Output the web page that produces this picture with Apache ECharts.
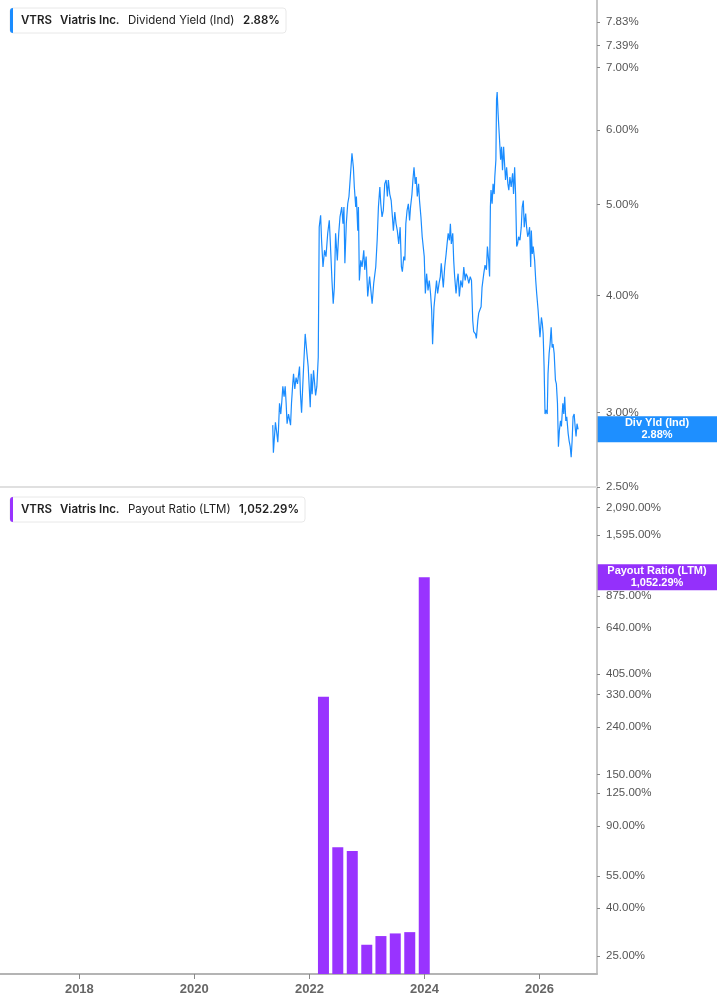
<!DOCTYPE html>
<html>
<head>
<meta charset="utf-8">
<script src="https://cdn.jsdelivr.net/npm/echarts@6.0.0/dist/echarts.min.js"></script>
<style>
  html, body { margin: 0; padding: 0; background: #fff; }
  #main { width: 717px; height: 1005px; }
</style>
</head>
<body>
<div id="main"></div>
<script>
// Dividend Yield (Ind), %
var divDates = [
  '2021-05-13','2021-05-17','2021-05-30','2021-06-08','2021-06-14','2021-06-18','2021-06-25','2021-07-03',
  '2021-07-10','2021-07-16','2021-07-24','2021-07-31','2021-08-06','2021-08-12','2021-08-21','2021-09-03',
  '2021-09-09','2021-09-17','2021-09-22','2021-09-30','2021-10-08','2021-10-17','2021-10-30','2021-11-05',
  '2021-11-12','2021-11-25','2021-12-05','2021-12-16','2021-12-24','2022-01-06','2022-01-12','2022-01-18',
  '2022-01-27','2022-02-09','2022-02-17','2022-02-26','2022-03-04','2022-03-13','2022-03-19','2022-03-28',
  '2022-04-07','2022-04-16','2022-04-27','2022-05-07','2022-05-13','2022-05-24','2022-06-01','2022-06-08',
  '2022-06-16','2022-06-27','2022-07-06','2022-07-14','2022-07-25','2022-08-02','2022-08-08','2022-08-14',
  '2022-08-23','2022-09-01','2022-09-09','2022-09-28','2022-10-07','2022-10-13','2022-10-22','2022-10-26',
  '2022-11-04','2022-11-08','2022-11-14','2022-11-23','2022-12-01','2022-12-12','2022-12-18','2022-12-27',
  '2023-01-06','2023-01-18','2023-02-03','2023-02-13','2023-02-26','2023-03-07','2023-03-15','2023-03-24',
  '2023-03-30','2023-04-07','2023-04-15','2023-04-24','2023-05-03','2023-05-11','2023-05-17','2023-05-26',
  '2023-06-04','2023-06-12','2023-06-18','2023-06-27','2023-07-05','2023-07-13','2023-07-22','2023-07-31',
  '2023-08-08','2023-08-14','2023-08-23','2023-08-30','2023-09-05','2023-09-13','2023-09-21','2023-09-29',
  '2023-10-05','2023-10-14','2023-10-20','2023-10-27','2023-11-04','2023-11-10','2023-11-17','2023-11-25',
  '2023-12-01','2023-12-10','2023-12-18','2023-12-31','2024-01-07','2024-01-15','2024-01-24','2024-02-01',
  '2024-02-09','2024-02-16','2024-02-22','2024-03-02','2024-03-10','2024-03-18','2024-03-25','2024-04-03',
  '2024-04-11','2024-04-17','2024-04-24','2024-04-30','2024-05-09','2024-05-18','2024-05-24','2024-05-31',
  '2024-06-08','2024-06-14','2024-06-20','2024-06-29','2024-07-05','2024-07-11','2024-07-20','2024-07-27',
  '2024-08-02','2024-08-10','2024-08-19','2024-08-29','2024-09-07','2024-09-16','2024-09-22','2024-09-30',
  '2024-10-09','2024-10-18','2024-10-26','2024-11-03','2024-11-09','2024-11-20','2024-11-26','2024-12-05',
  '2024-12-11','2024-12-18','2024-12-26','2025-01-01','2025-01-12','2025-01-20','2025-01-29','2025-02-04',
  '2025-02-12','2025-02-18','2025-02-23','2025-02-27','2025-03-06','2025-03-12','2025-03-19','2025-03-23',
  '2025-03-30','2025-04-03','2025-04-07','2025-04-13','2025-04-20','2025-04-29','2025-05-05','2025-05-11',
  '2025-05-18','2025-05-24','2025-05-30','2025-06-06','2025-06-14','2025-06-20','2025-06-27','2025-07-05',
  '2025-07-14','2025-07-20','2025-07-27','2025-08-02','2025-08-09','2025-08-15','2025-08-21','2025-08-30',
  '2025-09-07','2025-09-13','2025-09-20','2025-09-26','2025-10-05','2025-10-11','2025-10-18','2025-10-24',
  '2025-10-30','2025-11-06','2025-11-10','2025-11-16','2025-11-22','2025-12-01','2025-12-08','2025-12-14',
  '2025-12-23','2025-12-29','2026-01-04','2026-01-13','2026-01-19','2026-01-24','2026-01-30','2026-02-05',
  '2026-02-11','2026-02-19','2026-02-24','2026-03-03','2026-03-09','2026-03-16','2026-03-22','2026-03-28',
  '2026-04-04','2026-04-12','2026-04-18','2026-04-25','2026-05-01','2026-05-07','2026-05-14','2026-05-20',
  '2026-05-29','2026-06-04','2026-06-10','2026-06-17','2026-06-23','2026-07-02','2026-07-08','2026-07-15',
  '2026-07-21','2026-07-27','2026-08-02','2026-08-09','2026-08-15','2026-08-21','2026-08-27','2026-09-03'
];
var divYield = [
  2.91,2.72,2.93,2.85,2.79,2.87,3.07,2.99,
  3.09,3.20,3.12,3.20,3.07,2.92,2.99,2.91,
  3.07,3.22,3.30,3.18,3.27,3.22,3.36,3.14,
  3.00,3.36,3.64,3.47,3.36,3.04,3.30,3.14,
  3.33,3.13,3.20,3.44,4.73,4.87,4.58,4.29,
  4.47,4.40,4.66,4.81,4.58,4.15,3.92,4.08,
  4.66,4.36,4.66,4.85,4.97,4.77,4.97,4.33,
  4.77,5.01,5.10,5.67,5.48,5.22,4.97,5.10,
  4.69,4.97,4.15,4.36,4.29,4.47,4.26,4.40,
  3.99,4.19,3.92,4.12,4.29,4.58,4.97,5.22,
  5.01,4.85,4.93,5.26,5.31,5.10,5.31,5.13,
  5.05,4.85,4.69,4.91,4.77,4.69,4.54,4.73,
  4.29,4.24,4.40,4.36,4.77,4.93,5.01,4.81,
  4.97,5.13,5.31,5.48,5.26,5.35,5.10,5.26,
  5.05,4.85,4.62,4.40,4.02,4.22,4.05,4.15,
  4.02,3.86,3.55,3.89,4.02,4.15,4.02,4.12,
  4.19,4.33,4.19,4.08,4.29,4.43,4.54,4.66,
  4.58,4.77,4.54,4.66,4.36,4.19,4.02,4.15,
  4.22,3.99,4.15,4.08,4.29,4.15,4.22,4.19,
  4.12,4.19,4.15,3.76,3.66,3.64,3.60,3.76,
  3.83,3.86,3.89,4.08,4.22,4.31,4.26,4.51,
  4.36,4.19,4.97,5.18,5.01,5.26,5.13,5.35,
  5.58,6.46,6.59,6.25,5.95,5.58,5.76,5.44,
  5.76,5.53,5.31,5.48,5.26,5.18,5.35,5.22,
  5.40,5.13,5.48,5.13,4.51,4.54,4.62,4.58,
  4.73,4.97,5.05,4.73,4.89,4.73,4.62,4.66,
  4.73,4.29,4.69,4.43,4.51,4.36,4.15,4.02,
  3.86,3.73,3.61,3.79,3.73,3.64,3.36,2.99,
  3.02,2.99,3.30,3.47,3.55,3.70,3.52,3.55,
  3.47,3.25,3.22,3.07,2.76,2.87,2.94,2.90,
  3.07,2.99,3.12,2.94,2.97,2.85,2.80,2.76,
  2.69,2.80,2.97,2.99,2.90,2.83,2.92,2.88
];

// Payout Ratio (LTM), %, quarterly
var payoutDates = ['2022-03-31','2022-06-30','2022-09-30','2022-12-31','2023-03-31','2023-06-30','2023-09-30','2023-12-31'];
var payoutRatio = [323, 73.1, 70.5, 27.9, 30.4, 31.2, 31.6, 1052.29];

// axis ticks
var yieldTicks = [2.5, 3, 4, 5, 6, 7, 7.39, 7.83];
var payoutTicks = [25, 40, 55, 90, 125, 150, 240, 330, 405, 640, 875, 1595, 2090];
var yearTicks = ['2018-01-01', '2020-01-01', '2022-01-01', '2024-01-01', '2026-01-01'];

var BLUE = '#1a8cff';
var PURPLE = '#9933ff';

function ts(d) { return Date.parse(d + 'T00:00:00Z'); }

var chart = echarts.init(document.getElementById('main'));

// x axes are plain value axes over timestamps, labelled by year
var xBase = {
  type: 'value',
  min: ts('2016-08-15'),
  max: ts('2027-01-01'),
  splitLine: { show: false }
};

var yBase = {
  type: 'log',
  position: 'right',
  splitLine: { show: false },
  axisLine: { show: true, lineStyle: { color: '#b4b4b4', width: 1.5 } }
};

chart.setOption({
  animation: false,
  grid: [
    { left: 0, right: 120, top: 0, height: 487 },
    { left: 0, right: 120, top: 488, bottom: 31 }
  ],
  xAxis: [
    Object.assign({}, xBase, {
      gridIndex: 0,
      axisLine: { show: true, lineStyle: { color: '#e0e0e0', width: 2 } },
      axisTick: { show: false },
      axisLabel: { show: false }
    }),
    Object.assign({}, xBase, {
      gridIndex: 1,
      axisLine: { show: true, lineStyle: { color: '#b4b4b4', width: 2 } },
      axisTick: { show: true, length: 5, lineStyle: { color: '#888' }, customValues: yearTicks.map(ts) },
      axisLabel: {
        customValues: yearTicks.map(ts),
        formatter: function (v) { return new Date(v).getUTCFullYear(); },
        color: '#666', fontSize: 13, fontWeight: 'bold', fontFamily: 'Liberation Sans', margin: 9
      }
    })
  ],
  yAxis: [
    Object.assign({}, yBase, {
      gridIndex: 0, min: 2.5, max: 8.26,
      axisTick: { show: true, length: 3, lineStyle: { color: '#888' }, customValues: yieldTicks },
      axisLabel: {
        customValues: yieldTicks,
        formatter: function (v) { return v.toFixed(2) + '%'; },
        color: '#555', fontSize: 11.5, fontFamily: 'Liberation Sans', margin: 9
      }
    }),
    Object.assign({}, yBase, {
      gridIndex: 1, min: 20.9, max: 2540,
      axisTick: { show: true, length: 3, lineStyle: { color: '#888' }, customValues: payoutTicks },
      axisLabel: {
        customValues: payoutTicks,
        formatter: function (v) {
          return v.toLocaleString('en-US', { minimumFractionDigits: 2, maximumFractionDigits: 2 }) + '%';
        },
        color: '#555', fontSize: 11.5, fontFamily: 'Liberation Sans', margin: 9
      }
    })
  ],
  series: [
    {
      name: 'Dividend Yield (Ind)',
      type: 'line',
      xAxisIndex: 0, yAxisIndex: 0,
      showSymbol: false,
      lineStyle: { color: BLUE, width: 1.2 },
      data: divDates.map(function (d, i) { return [ts(d), divYield[i]]; })
    },
    {
      name: 'Payout Ratio (LTM)',
      type: 'bar',
      xAxisIndex: 1, yAxisIndex: 1,
      barWidth: 11,
      clip: true,
      itemStyle: { color: PURPLE },
      data: payoutDates.map(function (d, i) { return [ts(d), payoutRatio[i]]; })
    }
  ]
});

// legend boxes (top-left of each panel)
function legendBox(y, w, color, metric, value, valueX) {
  var h = 25, cy = y + h / 2;
  var txt = function (x, s, bold) {
    return { type: 'text', x: x, y: cy, style: { text: s, font: (bold ? '600 ' : '') + '11.5px Inter', fill: '#222', verticalAlign: 'middle' } };
  };
  return {
    type: 'group', z: 100,
    children: [
      { type: 'rect', shape: { x: 10, y: y, width: w, height: h, r: 3 }, style: { fill: '#fff', stroke: '#e8e8e8', lineWidth: 1 } },
      { type: 'rect', shape: { x: 10, y: y, width: 3, height: h, r: [3, 0, 0, 3] }, style: { fill: color } },
      txt(21, 'VTRS', true),
      txt(60, 'Viatris Inc.', true),
      txt(128, metric, false),
      txt(valueX, value, true)
    ]
  };
}

// value tag on the right axis, placed at the last value
function valueTag(gridIndex, lastPoint, color, label, value) {
  var p = chart.convertToPixel({ gridIndex: gridIndex }, lastPoint);
  var cy = p[1];
  return {
    type: 'group', z: 100,
    children: [
      { type: 'rect', shape: { x: 597, y: cy - 13, width: 120, height: 26 }, style: { fill: color } },
      { type: 'text', x: 657, y: cy - 6, style: { text: label, font: 'bold 11px Liberation Sans', fill: '#fff', align: 'center', verticalAlign: 'middle' } },
      { type: 'text', x: 657, y: cy + 6, style: { text: value, font: 'bold 11px Liberation Sans', fill: '#fff', align: 'center', verticalAlign: 'middle' } }
    ]
  };
}

var lastDiv = [ts(divDates[divDates.length - 1]), divYield[divYield.length - 1]];
var lastPay = [ts(payoutDates[payoutDates.length - 1]), payoutRatio[payoutRatio.length - 1]];

chart.setOption({
  graphic: [
    legendBox(8, 276, BLUE, 'Dividend Yield (Ind)', '2.88%', 243),
    legendBox(497, 295, PURPLE, 'Payout Ratio (LTM)', '1,052.29%', 239),
    valueTag(0, lastDiv, '#1e8fff', 'Div Yld (Ind)', '2.88%'),
    valueTag(1, lastPay, '#9430fb', 'Payout Ratio (LTM)', '1,052.29%')
  ]
});
</script>
</body>
</html>
